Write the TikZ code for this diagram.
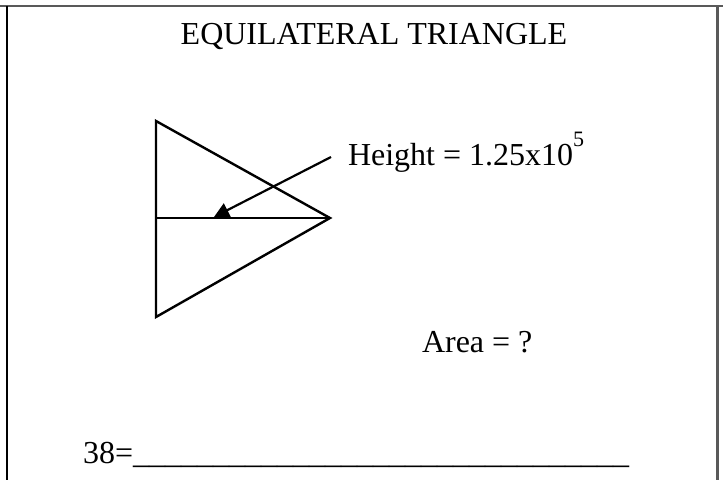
\documentclass[tikz,border=0pt]{standalone}
\usepackage{fontspec}
\setmainfont{Liberation Serif}
\usetikzlibrary{arrows.meta}
\tikzset{
  lbl/.style={inner sep=0pt, outer sep=0pt, anchor=base west, font=\fontsize{32}{38}\selectfont},
  edge/.style={line width=2.4pt, line join=miter},
  thin/.style={line width=1.2pt},
  framegray/.style={draw=black!65, line width=2.4pt},
}
\begin{document}
\begin{tikzpicture}[x=1pt,y=-1pt]
\useasboundingbox (0,0) rectangle (723,480);
% frame
\draw[framegray] (0,6) -- (723,6);
\draw[line width=1.8pt] (6.6,6) -- (6.6,480);
\draw[framegray] (717.3,6) -- (717.3,480);
% title
\node[lbl, anchor=base] (title) at (374,44) {EQUILATERAL TRIANGLE};
% triangle
\coordinate (A) at (156,121);
\coordinate (B) at (156,317);
\coordinate (C) at (330,218);
\coordinate (M) at (156,218);
\draw[edge] (A) -- (C) -- (B) -- cycle;
\draw[thin] (M) -- (C);
% arrow
\coordinate (S) at (331,157);
\coordinate (T) at (214,217);
\draw[line width=2.2pt, -{Triangle[length=15pt,width=15pt]}] (S) -- (T);
% labels
\node[lbl] (height) at (348,165) {Height = 1.25x10\raisebox{19pt}{\fontsize{22}{22}\selectfont 5}};
\node[lbl] (area) at (422,352) {Area = ?};
\node[lbl] (answer) at (83,463) {38=\_\_\_\_\_\_\_\_\_\_\_\_\_\_\_\_\_\_\_\_\_\_\_\_\_\_\_\_\_\_\_};
\end{tikzpicture}
\end{document}
